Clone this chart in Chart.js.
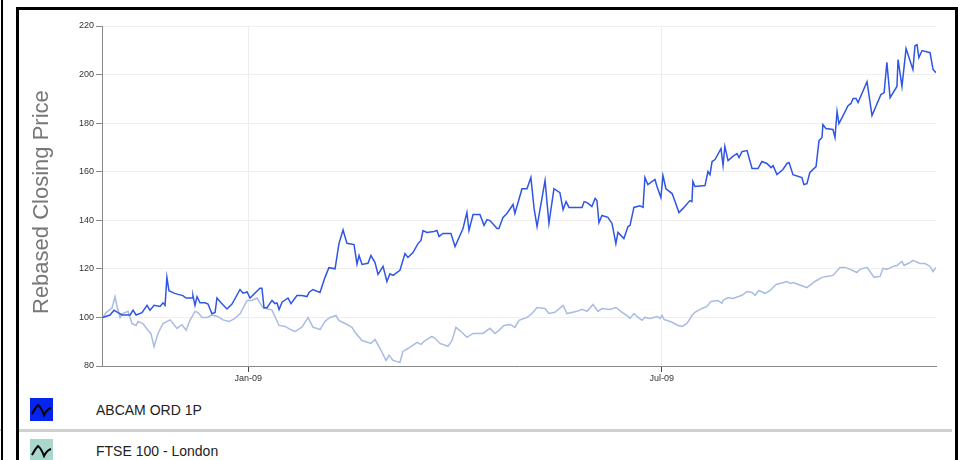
<!DOCTYPE html>
<html>
<head>
<meta charset="utf-8">
<script src="https://cdn.jsdelivr.net/npm/chart.js@4.4.1/dist/chart.umd.min.js"></script>
<style>
  html, body { margin: 0; padding: 0; background: #fff; }
  body { width: 958px; height: 460px; position: relative; overflow: hidden; font-family: "Liberation Sans", Arial, sans-serif; }
  .side { position: absolute; left: 0; top: 0; width: 1px; height: 460px; border-right: 2px solid #000; }
  .side-line { position: absolute; left: 0; top: 429px; width: 1px; height: 2px; background: #ccc; }
  .frame { position: absolute; left: 16px; top: 7px; width: 936px; height: 470px; border: 3px solid #000; }
  #wrap { position: absolute; left: 18px; top: 10px; width: 930px; height: 380px; }
  .row { position: absolute; left: 19px; width: 933px; height: 30px; }
  .row .icon { position: absolute; left: 11px; top: 0; width: 23px; height: 23px; }
  .row .label { position: absolute; left: 77px; top: 4px; font-size: 14px; color: #222; }
  .sep { position: absolute; left: 19px; top: 429px; width: 933px; height: 3px; background: #d0d0d0; }
</style>
</head>
<body>
<div class="side"></div>
<div class="side-line"></div>
<div class="frame"></div>
<div id="wrap"><canvas id="priceChart"></canvas></div>
<div class="row" style="top:398px">
  <svg class="icon" viewBox="0 0 23 23"><rect width="23" height="23" fill="#0525ee"/><path d="M2,16 Q5,10 8,7 Q11,9 14,17 Q17,11 21,10" fill="none" stroke="#000" stroke-width="2"/></svg>
  <span class="label">ABCAM ORD 1P</span>
</div>
<div class="sep"></div>
<div class="row" style="top:439px">
  <svg class="icon" viewBox="0 0 23 23"><rect width="23" height="23" fill="#a8d8cc"/><path d="M2,16 Q5,10 8,7 Q11,9 14,17 Q17,11 21,10" fill="none" stroke="#000" stroke-width="2"/></svg>
  <span class="label">FTSE 100 - London</span>
</div>

<script>
// --- Dados: dias desde 29/10/2008, valores rebaseados ---
const abcamDays = [0.3, 3.5, 5.3, 7.0, 8.8, 12.3, 13.6, 14.9, 17.5, 19.7, 21.0, 22.8, 25.4, 26.7, 27.6, 28.4, 29.3, 31.5, 33.3, 35.4,
    36.8, 39.4, 39.8, 40.7, 41.6, 42.9, 45.1, 46.4, 48.1, 49.5, 50.3, 52.1, 54.7, 56.9, 60.4, 61.7, 63.5, 64.8, 69.1, 70.0,
    70.9, 72.2, 74.4, 75.7, 76.6, 77.5, 78.8, 81.4, 82.7, 85.3, 87.5, 89.7, 90.6, 92.3, 95.4, 97.6, 99.3, 102.0, 103.7, 105.5,
    107.2, 110.3, 111.6, 112.5, 113.8, 116.4, 117.7, 119.5, 120.8, 123.0, 124.7, 126.0, 127.4, 130.4, 132.6, 133.9, 136.1, 138.3, 139.6, 140.5,
    142.2, 145.3, 146.6, 147.5, 149.2, 152.7, 154.5, 158.0, 159.7, 160.6, 162.4, 165.4, 167.2, 168.5, 169.8, 172.9, 173.7, 175.5, 177.2, 179.9,
    180.7, 182.1, 183.8, 186.0, 187.7, 189.1, 190.4, 193.9, 195.6, 197.8, 200.4, 201.8, 203.1, 204.4, 210.1, 211.0, 212.3, 214.4, 215.8, 216.6,
    217.5, 218.8, 221.4, 223.2, 224.9, 225.8, 228.4, 230.2, 231.1, 232.8, 235.4, 236.8, 237.6, 238.9, 242.0, 242.9, 244.6, 245.5, 246.8, 249.5,
    250.8, 252.5, 254.3, 257.3, 258.2, 258.6, 259.5, 263.9, 265.2, 266.1, 267.0, 268.3, 270.9, 271.8, 272.6, 274.0, 276.1, 277.9, 278.8, 280.1,
    282.3, 284.5, 287.1, 288.8, 291.0, 292.8, 293.7, 295.4, 298.0, 299.8, 300.7, 302.4, 306.3, 307.2, 308.5, 309.8, 312.5, 313.8, 315.1, 315.5,
    316.8, 319.9, 320.8, 321.7, 322.5, 323.9, 326.5, 327.8, 328.7, 330.0, 330.9, 334.8, 337.0, 340.9, 342.3, 343.5, 344.9, 347.9, 348.4, 350.1,
    351.9, 354.9, 355.8, 356.7, 357.5, 358.9, 362.4, 363.7, 365.0];
const abcamValues = [100, 101, 103, 102, 101, 101, 103, 101, 102, 105, 103, 105, 104.5, 106, 105, 116.5, 111, 110, 109.5, 109,
    108, 108, 109, 105, 108.5, 106, 106, 105.5, 101.5, 102, 108, 106, 103.5, 105.5, 111.5, 110, 110.5, 108, 112, 112,
    104, 104, 107, 105.7, 106, 103.3, 106.3, 108, 105.7, 109, 109, 108.6, 110.3, 111.5, 110.3, 116.5, 120.5, 120, 130.4, 136,
    130.5, 130, 122, 125.5, 121.8, 122.3, 125.5, 122.6, 117.7, 121, 114.8, 118, 117.3, 119.4, 126.3, 124.7, 126.7, 130.4, 131.7, 135.8,
    135, 135.4, 135.8, 133.3, 134.6, 134.6, 129.2, 136.6, 143.2, 135.8, 142.4, 142.4, 137.9, 140.3, 139.9, 136.6, 136.6, 141.2, 142.8, 146.5,
    142.8, 147.3, 153, 153, 157.6, 144.9, 137.4, 156.4, 138.7, 153, 151.4, 144.4, 147.7, 145.3, 145.3, 147.7, 147.3, 145.7, 149, 148.1,
    139, 142, 141.2, 138.7, 130.4, 135, 132.5, 137.4, 137.9, 145.3, 146, 145.3, 157.6, 154.7, 156.8, 153.9, 149.4, 158.4, 153, 151,
    147.7, 143.2, 144.9, 148.1, 147.7, 156, 153.9, 154.3, 160.1, 158.8, 164.2, 165, 169.5, 162.6, 170.4, 164.6, 166.3, 167.5, 165.8, 168.3,
    168.7, 161.3, 161.3, 164.2, 163.4, 161.7, 162.5, 158.8, 160.9, 163.4, 163.8, 158.8, 157.6, 154.7, 155.1, 159.7, 162.1, 172.8, 174.1, 179.4,
    177.8, 177.4, 174.1, 184.8, 179.8, 182.3, 187.2, 188.1, 190.1, 190.1, 188.5, 197.1, 183.1, 191.8, 192.6, 205, 190.5, 195.1, 206.2, 195.1,
    210.7, 202.1, 211.9, 212.3, 207, 209.9, 209, 202.1, 200.8];

const ftseDays = [0.4, 1.8, 4.4, 5.7, 6.6, 7.9, 8.8, 11.4, 13.1, 14.9, 15.8, 17.9, 20.1, 21.4, 22.8, 24.5, 26.7, 29.8, 31.1, 32.8,
    35.0, 36.8, 38.5, 40.7, 42.0, 43.8, 46.0, 48.1, 50.3, 53.0, 55.6, 58.2, 60.4, 63.5, 65.6, 67.8, 69.1, 70.5, 72.6, 74.4,
    77.5, 80.1, 83.2, 84.5, 87.5, 90.2, 92.3, 95.4, 97.6, 99.8, 102.4, 103.7, 107.2, 109.4, 110.7, 113.8, 117.7, 119.5, 121.7, 124.3,
    125.6, 127.4, 130.4, 131.7, 133.9, 137.9, 139.6, 141.4, 144.4, 145.7, 147.9, 151.4, 153.2, 154.9, 157.5, 159.7, 162.4, 166.7, 169.8, 172.0,
    174.2, 175.9, 178.6, 180.7, 182.5, 186.0, 188.2, 190.4, 193.9, 195.6, 198.2, 201.8, 203.5, 207.9, 210.1, 212.3, 214.9, 217.1, 218.8, 222.3,
    224.9, 227.6, 230.2, 231.1, 232.8, 234.6, 236.3, 237.6, 239.8, 242.9, 244.2, 245.1, 246.0, 249.5, 252.1, 253.9, 256.0, 258.2, 259.5, 262.6,
    264.8, 266.5, 269.6, 271.3, 271.8, 274.0, 276.1, 280.1, 282.3, 284.5, 285.8, 287.5, 290.2, 292.3, 295.0, 296.7, 299.8, 301.1, 302.4, 308.5,
    312.0, 315.1, 317.3, 319.9, 323.0, 325.2, 327.4, 330.4, 331.7, 334.8, 336.1, 337.9, 340.5, 341.8, 343.5, 346.2, 347.9, 350.1, 351.0, 353.6,
    354.9, 357.9, 360.2, 362.4, 363.7, 365.0];
const ftseValues = [100, 102, 104, 108.5, 104.5, 100, 101.5, 102.5, 97.5, 96.7, 98.3, 97.5, 94.7, 93.4, 88, 93.4, 97.5, 99, 97.5, 95.5,
    97, 94.7, 98.8, 102.5, 102, 100, 100, 101, 100.5, 99, 98.3, 99.6, 101.5, 107, 107, 108, 106, 104, 103.5, 103,
    96.7, 96.3, 94.7, 94.2, 96, 100, 96, 95, 98.4, 100, 100.8, 98.8, 97.1, 95.9, 93.9, 90.5, 89.3, 90.9, 87.2, 82.3,
    84.4, 82.3, 81.5, 86, 87.2, 89.7, 88.9, 90.5, 92.2, 91.4, 89.3, 88.1, 90.5, 95.9, 93.9, 91.8, 93.4, 93.4, 95.5, 93.4,
    95.1, 96.7, 97.1, 95.9, 98.8, 100, 101.6, 104.1, 103.7, 101.6, 102.1, 104.9, 101.6, 102.5, 103.3, 102.5, 105.3, 102.5, 103.7, 103.3,
    104.1, 102.1, 100.4, 99.6, 101.6, 100, 98.8, 100, 99.6, 100.4, 99.6, 100.8, 99.2, 98, 96.7, 96.3, 97.5, 100.8, 102.1, 103.7,
    104.5, 106.6, 107, 105.8, 107, 108.2, 107.8, 109.1, 110.7, 110.3, 109.1, 111.1, 109.9, 111, 113.6, 114, 114.8, 114, 114.4, 112.3,
    114.8, 116.5, 116.9, 117.3, 120.6, 120.6, 119.8, 118.5, 119.8, 120.6, 118.9, 116.5, 116.9, 120.2, 119.8, 121, 121.4, 123.1, 121.4, 122.6,
    123.5, 122.2, 122.2, 121, 118.9, 120.6];

const yTicks = [80, 100, 120, 140, 160, 180, 200, 220];
const xTickDays = [64, 245];
const xTickLabels = ["Jan-09", "Jul-09"];
const seriesNames = ["ABCAM ORD 1P", "FTSE 100 - London"];

const toPoints = (days, vals) => days.map((d, i) => ({ x: d, y: vals[i] }));

document.addEventListener("DOMContentLoaded", () => {
    initChart();
});

function initChart() {
    const ctx = document.getElementById('priceChart').getContext('2d');
    const tickFont = { size: 9, family: "'Liberation Sans', Arial, sans-serif" };

    new Chart(ctx, {
        type: 'line',
        data: {
            datasets: [{
                label: seriesNames[0],
                data: toPoints(abcamDays, abcamValues),
                borderColor: '#2f55e6',
                borderWidth: 1.5,
                pointRadius: 0,
                tension: 0
            }, {
                label: seriesNames[1],
                data: toPoints(ftseDays, ftseValues),
                borderColor: '#a8bce2',
                borderWidth: 1.5,
                pointRadius: 0,
                tension: 0
            }]
        },
        options: {
            responsive: true,
            maintainAspectRatio: false,
            animation: false,
            layout: { padding: { top: 16, right: 12, bottom: 0, left: 0 } },
            plugins: {
                legend: { display: false },
                tooltip: { enabled: false }
            },
            scales: {
                x: {
                    type: 'linear',
                    min: 0,
                    max: 365,
                    afterBuildTicks: axis => { axis.ticks = xTickDays.map(v => ({ value: v })); },
                    afterFit: axis => { axis.height = 24; },
                    grid: { color: '#ececec', tickColor: '#444', tickLength: 6 },
                    border: { color: '#888' },
                    ticks: {
                        color: '#333',
                        font: tickFont,
                        padding: 1,
                        maxRotation: 0,
                        callback: v => xTickLabels[xTickDays.indexOf(v)]
                    }
                },
                y: {
                    min: 80,
                    max: 220,
                    afterBuildTicks: axis => { axis.ticks = yTicks.map(v => ({ value: v })); },
                    afterFit: axis => { axis.width = 84; },
                    grid: { color: '#efefef', tickColor: '#888', tickLength: 6 },
                    border: { color: '#888' },
                    ticks: { color: '#333', font: tickFont, padding: 2 },
                    title: {
                        display: true,
                        // espaços finais descem o texto alguns px para bater com o original
                        text: 'Rebased Closing Price  ',
                        color: '#777',
                        font: { size: 22, family: "'Liberation Sans', Arial, sans-serif" },
                        padding: { top: 11, bottom: 0 }
                    }
                }
            }
        }
    });
}
</script>
</body>
</html>
